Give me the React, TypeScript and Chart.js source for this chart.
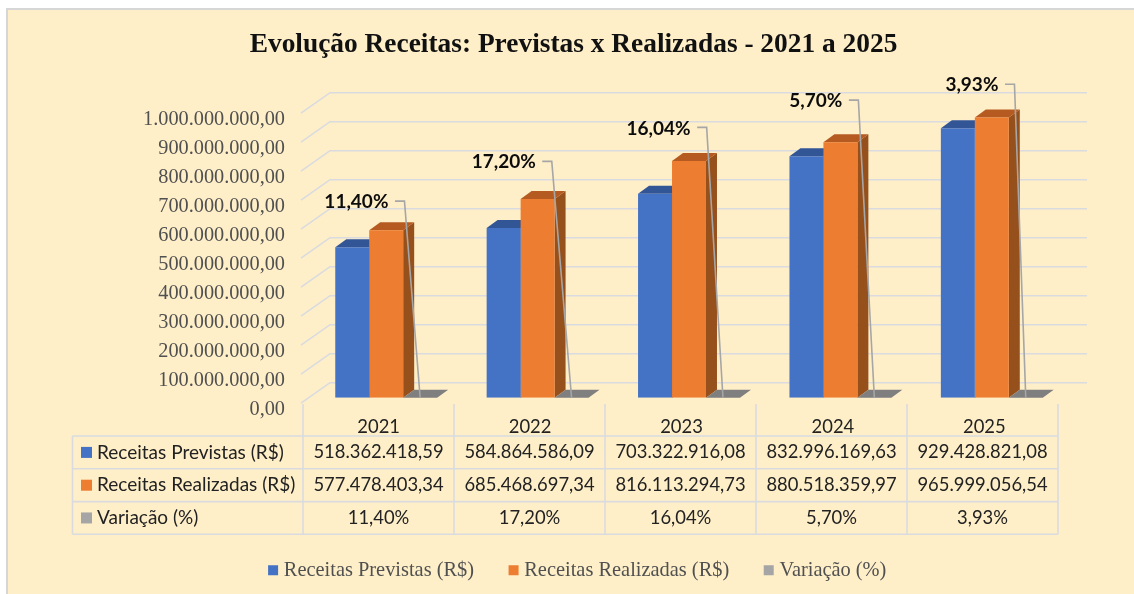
import React, { useEffect, useRef } from "react";
import { Chart, registerables } from "chart.js";

Chart.register(...registerables);

// ---- data ----
const years = ["2021", "2022", "2023", "2024", "2025"];
const receitasPrevistas = [518362418.59, 584864586.09, 703322916.08, 832996169.63, 929428821.08];
const receitasRealizadas = [577478403.34, 685468697.34, 816113294.73, 880518359.97, 965999056.54];
const variacao = [11.4, 17.2, 16.04, 5.7, 3.93];
const seriesNames = ["Receitas Previstas (R$)", "Receitas Realizadas (R$)", "Variação (%)"];
const titleText = "Evolução Receitas: Previstas x Realizadas - 2021 a 2025";
// height, in axis units, at which each percentage callout sits
const calloutLevels = [678000000, 815000000, 932000000, 1026000000, 1081000000];

// ---- layout & style ----
const W = 1134;
const H = 594;
const PLOT = { left: 310.5, right: 1067.5, top: 107.7, bottom: 397.7 };
const DEPTH = { dx: 11, dy: 8 };
const FRONT = { x: 301, dy: 5.5 };
const BACK = { x: 330, xEnd: 1087, dy: -15 };
const TABLE = { left: 72.5, col0: 303, colW: 151, rows: [436, 468.8, 501.6, 534.3], headTop: 404 };
const calloutElbowDx = [15.7, 19.8, 16.3, 16, 11.3];
const calloutStub = 9.5;
const COLORS = ["#4472C4", "#ED7D31", "#A5A5A5"];
const TOPS = ["#325596", "#B55B22", "#7F7F7F"];
const SIDES = ["#2F5597", "#96501C", "#7F7F7F"];
const GRID = "#D9DBE0";
const BG = "#FEEFC9";
const SERIF = "'Liberation Serif', serif";
const SANS = "Lato, sans-serif";

const moneyFmt = new Intl.NumberFormat("pt-BR", { minimumFractionDigits: 2, maximumFractionDigits: 2 });
const pct = (v: number) => moneyFmt.format(v) + "%";

const scene = {
  id: "scene",
  afterLayout(chart: any) {
    // centre the title and the legend where the reference has them
    const t = chart.titleBlock;
    const l = chart.legend;
    const tc = (t.left + t.right) / 2;
    t.left += 573.5 - tc;
    t.right += 573.5 - tc;
    const lc = (l.left + l.right) / 2;
    l.left += 579.5 - lc;
    l.right += 579.5 - lc;
    l.top = H - l.height - 3.5;
    l.bottom = l.top + l.height;
  },
  beforeDraw(chart: any) {
    const { ctx } = chart;
    ctx.save();
    ctx.fillStyle = "#FFFFFF";
    ctx.fillRect(0, 0, W, H);
    ctx.fillStyle = "#D6D6D6";
    ctx.fillRect(6, 8, W - 6, H - 8);
    ctx.fillStyle = BG;
    ctx.fillRect(8, 10, W - 8, H - 10);
    ctx.restore();
  },
  beforeDatasetsDraw(chart: any) {
    const { ctx } = chart;
    const y = chart.scales.y;
    ctx.save();
    // 3D gridlines
    ctx.strokeStyle = GRID;
    ctx.lineWidth = 1.6;
    y.ticks.forEach((t: any) => {
      const p = y.getPixelForValue(t.value);
      ctx.beginPath();
      ctx.moveTo(FRONT.x, p + FRONT.dy);
      ctx.lineTo(BACK.x, p + BACK.dy);
      ctx.lineTo(BACK.xEnd, p + BACK.dy);
      ctx.stroke();
    });
    // depth faces of the bars
    chart.data.datasets.forEach((_: any, di: number) => {
      chart.getDatasetMeta(di).data.forEach((bar: any) => {
        const { x, y: top, base, width } = bar.getProps(["x", "y", "base", "width"], true);
        const l = x - width / 2;
        const r = x + width / 2;
        ctx.fillStyle = SIDES[di];
        ctx.beginPath();
        ctx.moveTo(r, top);
        ctx.lineTo(r + DEPTH.dx, top - DEPTH.dy);
        ctx.lineTo(r + DEPTH.dx, base - DEPTH.dy);
        ctx.lineTo(r, base);
        ctx.closePath();
        ctx.fill();
        ctx.fillStyle = TOPS[di];
        ctx.beginPath();
        ctx.moveTo(l, top);
        ctx.lineTo(l + DEPTH.dx, top - DEPTH.dy);
        ctx.lineTo(r + DEPTH.dx, top - DEPTH.dy);
        ctx.lineTo(r, top);
        ctx.closePath();
        ctx.fill();
      });
    });
    ctx.restore();
  },
  afterDatasetsDraw(chart: any) {
    const { ctx } = chart;
    const y = chart.scales.y;
    ctx.save();
    // callouts: leader line from the label down to the (flat) variation bar
    const meta = chart.getDatasetMeta(2);
    variacao.forEach((v, i) => {
      const bar = meta.data[i];
      const endX = bar.x;
      const endY = bar.base;
      const ly = y.getPixelForValue(calloutLevels[i]);
      const elbow = endX - calloutElbowDx[i];
      const start = elbow - calloutStub;
      ctx.strokeStyle = "#A6A6A6";
      ctx.lineWidth = 1.6;
      ctx.beginPath();
      ctx.moveTo(start, ly);
      ctx.lineTo(elbow, ly);
      ctx.lineTo(endX, endY);
      ctx.stroke();
      ctx.fillStyle = "#0C0C0C";
      ctx.font = `bold 19px ${SANS}`;
      ctx.textAlign = "right";
      ctx.textBaseline = "middle";
      ctx.fillText(pct(v), start - 6.5, ly + 1);
    });
    // data table
    const colX = (i: number) => TABLE.col0 + i * TABLE.colW;
    const right = colX(years.length);
    ctx.strokeStyle = GRID;
    ctx.lineWidth = 1.6;
    TABLE.rows.forEach((ry) => {
      ctx.beginPath();
      ctx.moveTo(TABLE.left, ry);
      ctx.lineTo(right, ry);
      ctx.stroke();
    });
    ctx.beginPath();
    ctx.moveTo(TABLE.left, TABLE.rows[0]);
    ctx.lineTo(TABLE.left, TABLE.rows[3]);
    ctx.stroke();
    for (let i = 0; i <= years.length; i++) {
      ctx.beginPath();
      ctx.moveTo(colX(i), TABLE.headTop);
      ctx.lineTo(colX(i), TABLE.rows[3]);
      ctx.stroke();
    }
    const rowsData = [
      receitasPrevistas.map((v) => moneyFmt.format(v)),
      receitasRealizadas.map((v) => moneyFmt.format(v)),
      variacao.map(pct),
    ];
    rowsData.forEach((cells, r) => {
      const cy = (TABLE.rows[r] + TABLE.rows[r + 1]) / 2;
      ctx.fillStyle = COLORS[r];
      ctx.fillRect(81, cy - 5.5, 11, 11);
      ctx.fillStyle = "#222222";
      ctx.textBaseline = "middle";
      ctx.textAlign = "left";
      ctx.font = `19px ${SANS}`;
      ctx.fillText(seriesNames[r], 97, cy);
      ctx.textAlign = "center";
      ctx.font = `18.4px ${SANS}`;
      cells.forEach((c, i) => ctx.fillText(c, colX(i) + TABLE.colW / 2, cy));
    });
    ctx.restore();
  },
};

export default function App() {
  const ref = useRef<HTMLCanvasElement>(null);
  useEffect(() => {
    document.body.style.margin = "0";
    const chart = new Chart(ref.current!, {
      type: "bar",
      data: {
        labels: years,
        datasets: [receitasPrevistas, receitasRealizadas, variacao].map((data, i) => ({
          label: seriesNames[i],
          data,
          backgroundColor: COLORS[i],
          borderWidth: 0,
          categoryPercentage: 0.673,
          barPercentage: 1,
        })),
      },
      options: {
        responsive: false,
        animation: false,
        layout: { padding: { left: 0, top: 0, right: W - PLOT.right, bottom: 0 } },
        plugins: {
          tooltip: { enabled: false },
          title: {
            display: true,
            text: titleText,
            color: "#111111",
            font: { family: SERIF, size: 27.4, weight: "bold", lineHeight: 1.2 },
            padding: { top: 28.5, bottom: PLOT.top - 28.5 - 27.4 * 1.2 },
          },
          legend: {
            position: "bottom",
            labels: {
              usePointStyle: true,
              pointStyle: "rect",
              boxWidth: 1,
              boxHeight: 10,
              padding: 39,
              color: "#505050",
              font: { family: SERIF, size: 20.4 },
            },
          },
        },
        scales: {
          x: {
            grid: { display: false },
            border: { display: false },
            ticks: {
              color: "#222222",
              font: { family: SANS, size: 18.4 },
              padding: 10,
              labelOffset: -7.5,
              maxRotation: 0,
            },
            afterFit(s: any) {
              s.height = H - PLOT.bottom - s.chart.legend.height;
            },
          },
          y: {
            min: 0,
            max: 1000000000,
            grid: { display: false },
            border: { display: false },
            ticks: {
              stepSize: 100000000,
              color: "#505050",
              font: { family: SERIF, size: 20.3 },
              padding: 17.5,
              labelOffset: 11.5,
              callback: (v: any) => moneyFmt.format(Number(v)),
            },
            afterFit(s: any) {
              s.width = PLOT.left;
            },
          },
        },
      } as any,
      plugins: [scene],
    });
    return () => chart.destroy();
  }, []);
  return <canvas ref={ref} width={W} height={H} style={{ display: "block" }} />;
}
